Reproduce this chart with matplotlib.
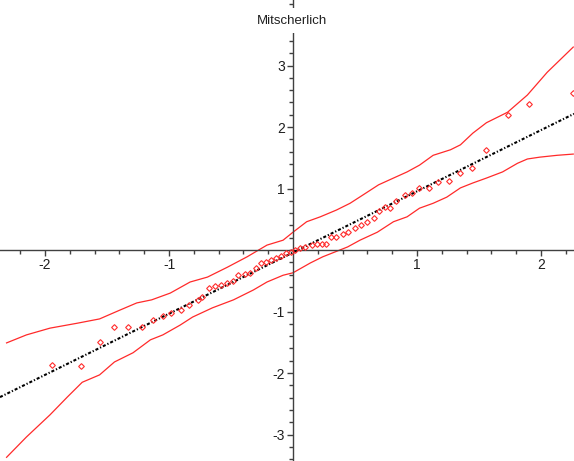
import matplotlib
matplotlib.use("Agg")
import matplotlib.pyplot as plt
import numpy as np
from matplotlib.ticker import MultipleLocator, FixedLocator

plt.rcParams['axes.unicode_minus'] = False
plt.rcParams['lines.scale_dashes'] = False
plt.rcParams['font.family'] = ['Liberation Sans', 'DejaVu Sans']

title = "Mitscherlich"

# Q-Q points (theoretical quantile, sample quantile)
qx = [-1.94, -1.71, -1.56, -1.44, -1.33, -1.22, -1.13, -1.05, -0.98, -0.90,
      -0.84, -0.77, -0.73, -0.68, -0.63, -0.58, -0.53, -0.48, -0.44, -0.39,
      -0.35, -0.30, -0.26, -0.22, -0.18, -0.14, -0.10, -0.06, -0.02, 0.02,
      0.06, 0.10, 0.15, 0.19, 0.23, 0.27, 0.31, 0.35, 0.40, 0.44,
      0.50, 0.55, 0.60, 0.65, 0.69, 0.74, 0.78, 0.83, 0.90, 0.96,
      1.02, 1.10, 1.17, 1.26, 1.35, 1.44, 1.56, 1.73, 1.90, 2.26]
qy = [-1.87, -1.89, -1.50, -1.25, -1.25, -1.25, -1.14, -1.07, -1.02, -0.98,
      -0.89, -0.81, -0.76, -0.62, -0.59, -0.57, -0.54, -0.50, -0.41, -0.39,
      -0.37, -0.29, -0.21, -0.20, -0.16, -0.13, -0.10, -0.05, -0.03, 0.00,
      0.03, 0.05, 0.08, 0.10, 0.10, 0.10, 0.21, 0.21, 0.26, 0.29,
      0.36, 0.41, 0.46, 0.52, 0.63, 0.70, 0.68, 0.80, 0.89, 0.93,
      1.01, 1.01, 1.11, 1.12, 1.25, 1.33, 1.63, 2.20, 2.37, 2.55]

# Upper confidence band
ub_x = [-2.31, -2.15, -1.96, -1.74, -1.56, -1.40, -1.26, -1.14, -0.99, -0.83,
        -0.69, -0.53, -0.37, -0.21, -0.08, 0.00, 0.11, 0.22, 0.35, 0.46,
        0.56, 0.69, 0.81, 0.92, 1.02, 1.13, 1.27, 1.35, 1.45, 1.56,
        1.73, 1.89, 2.05, 2.26]
ub_y = [-1.51, -1.38, -1.27, -1.19, -1.12, -0.98, -0.86, -0.81, -0.70, -0.52,
        -0.44, -0.28, -0.11, 0.08, 0.16, 0.29, 0.46, 0.54, 0.65, 0.76,
        0.89, 1.06, 1.17, 1.27, 1.38, 1.54, 1.63, 1.71, 1.90, 2.07,
        2.24, 2.52, 2.89, 3.30]

# Lower confidence band
lb_x = [-2.31, -2.15, -1.96, -1.82, -1.70, -1.56, -1.44, -1.29, -1.15, -1.05,
        -0.91, -0.81, -0.65, -0.48, -0.32, -0.21, -0.08, 0.00, 0.14, 0.24,
        0.34, 0.44, 0.54, 0.68, 0.81, 0.92, 1.02, 1.13, 1.24, 1.35,
        1.45, 1.56, 1.69, 1.81, 1.89, 1.99, 2.13, 2.26]
lb_y = [-3.37, -3.04, -2.68, -2.39, -2.15, -2.03, -1.82, -1.67, -1.46, -1.38,
        -1.22, -1.09, -0.94, -0.81, -0.65, -0.52, -0.41, -0.37, -0.21, -0.11,
        -0.03, 0.05, 0.16, 0.29, 0.46, 0.54, 0.68, 0.76, 0.86, 1.01,
        1.09, 1.17, 1.27, 1.41, 1.48, 1.51, 1.54, 1.56]

# Reference line
line_slope = 0.995
line_intercept = -0.04
line_x = [-2.363, 2.266]

xticks = [-2, -1, 1, 2]
yticks = [-3, -2, -1, 1, 2, 3]

fig = plt.figure(figsize=(5.74, 4.61), dpi=100)
ax = fig.add_axes([0, 0, 1, 1])
ax.set_xlim(-2.363, 2.266)
ax.set_ylim(-3.43, 4.065)

red = '#ff2a2a'
ax.plot(ub_x, ub_y, color=red, lw=0.9, zorder=2)
ax.plot(lb_x, lb_y, color=red, lw=0.9, zorder=2)
lx = np.array(line_x)
ax.plot(lx, line_slope * lx + line_intercept, color='black', lw=1.5,
        dashes=(2.2, 1.4, 0.9, 1.4), zorder=3)
ax.plot(qx, qy, linestyle='none', marker='D', markersize=2.9,
        markerfacecolor='none', markeredgecolor=red, markeredgewidth=0.8, zorder=4)

for s in ['top', 'right']:
    ax.spines[s].set_visible(False)
for s in ['left', 'bottom']:
    ax.spines[s].set_position(('data', 0))
    ax.spines[s].set_color('#404040')
    ax.spines[s].set_linewidth(1.0)

ax.xaxis.set_major_locator(FixedLocator(xticks))
ax.yaxis.set_major_locator(FixedLocator(yticks))
ax.xaxis.set_minor_locator(MultipleLocator(0.2))
ax.yaxis.set_minor_locator(MultipleLocator(0.2))
ax.set_xticklabels([str(t) for t in xticks])
ax.set_yticklabels([str(t) for t in yticks])
ax.tick_params(which='major', direction='out', length=4, width=1.0, color='#404040',
               labelsize=10, labelcolor='#202020', pad=2)
ax.tick_params(which='minor', direction='out', length=3, width=1.0, color='#404040')

ax.text(-0.01, 0.955, title, transform=ax.get_xaxis_transform(), ha='center', va='center',
        fontsize=9.5, color='#202020', zorder=10,
        bbox=dict(facecolor='white', edgecolor='none', boxstyle='square,pad=0.5'))

fig.savefig('out.png', dpi=100)
